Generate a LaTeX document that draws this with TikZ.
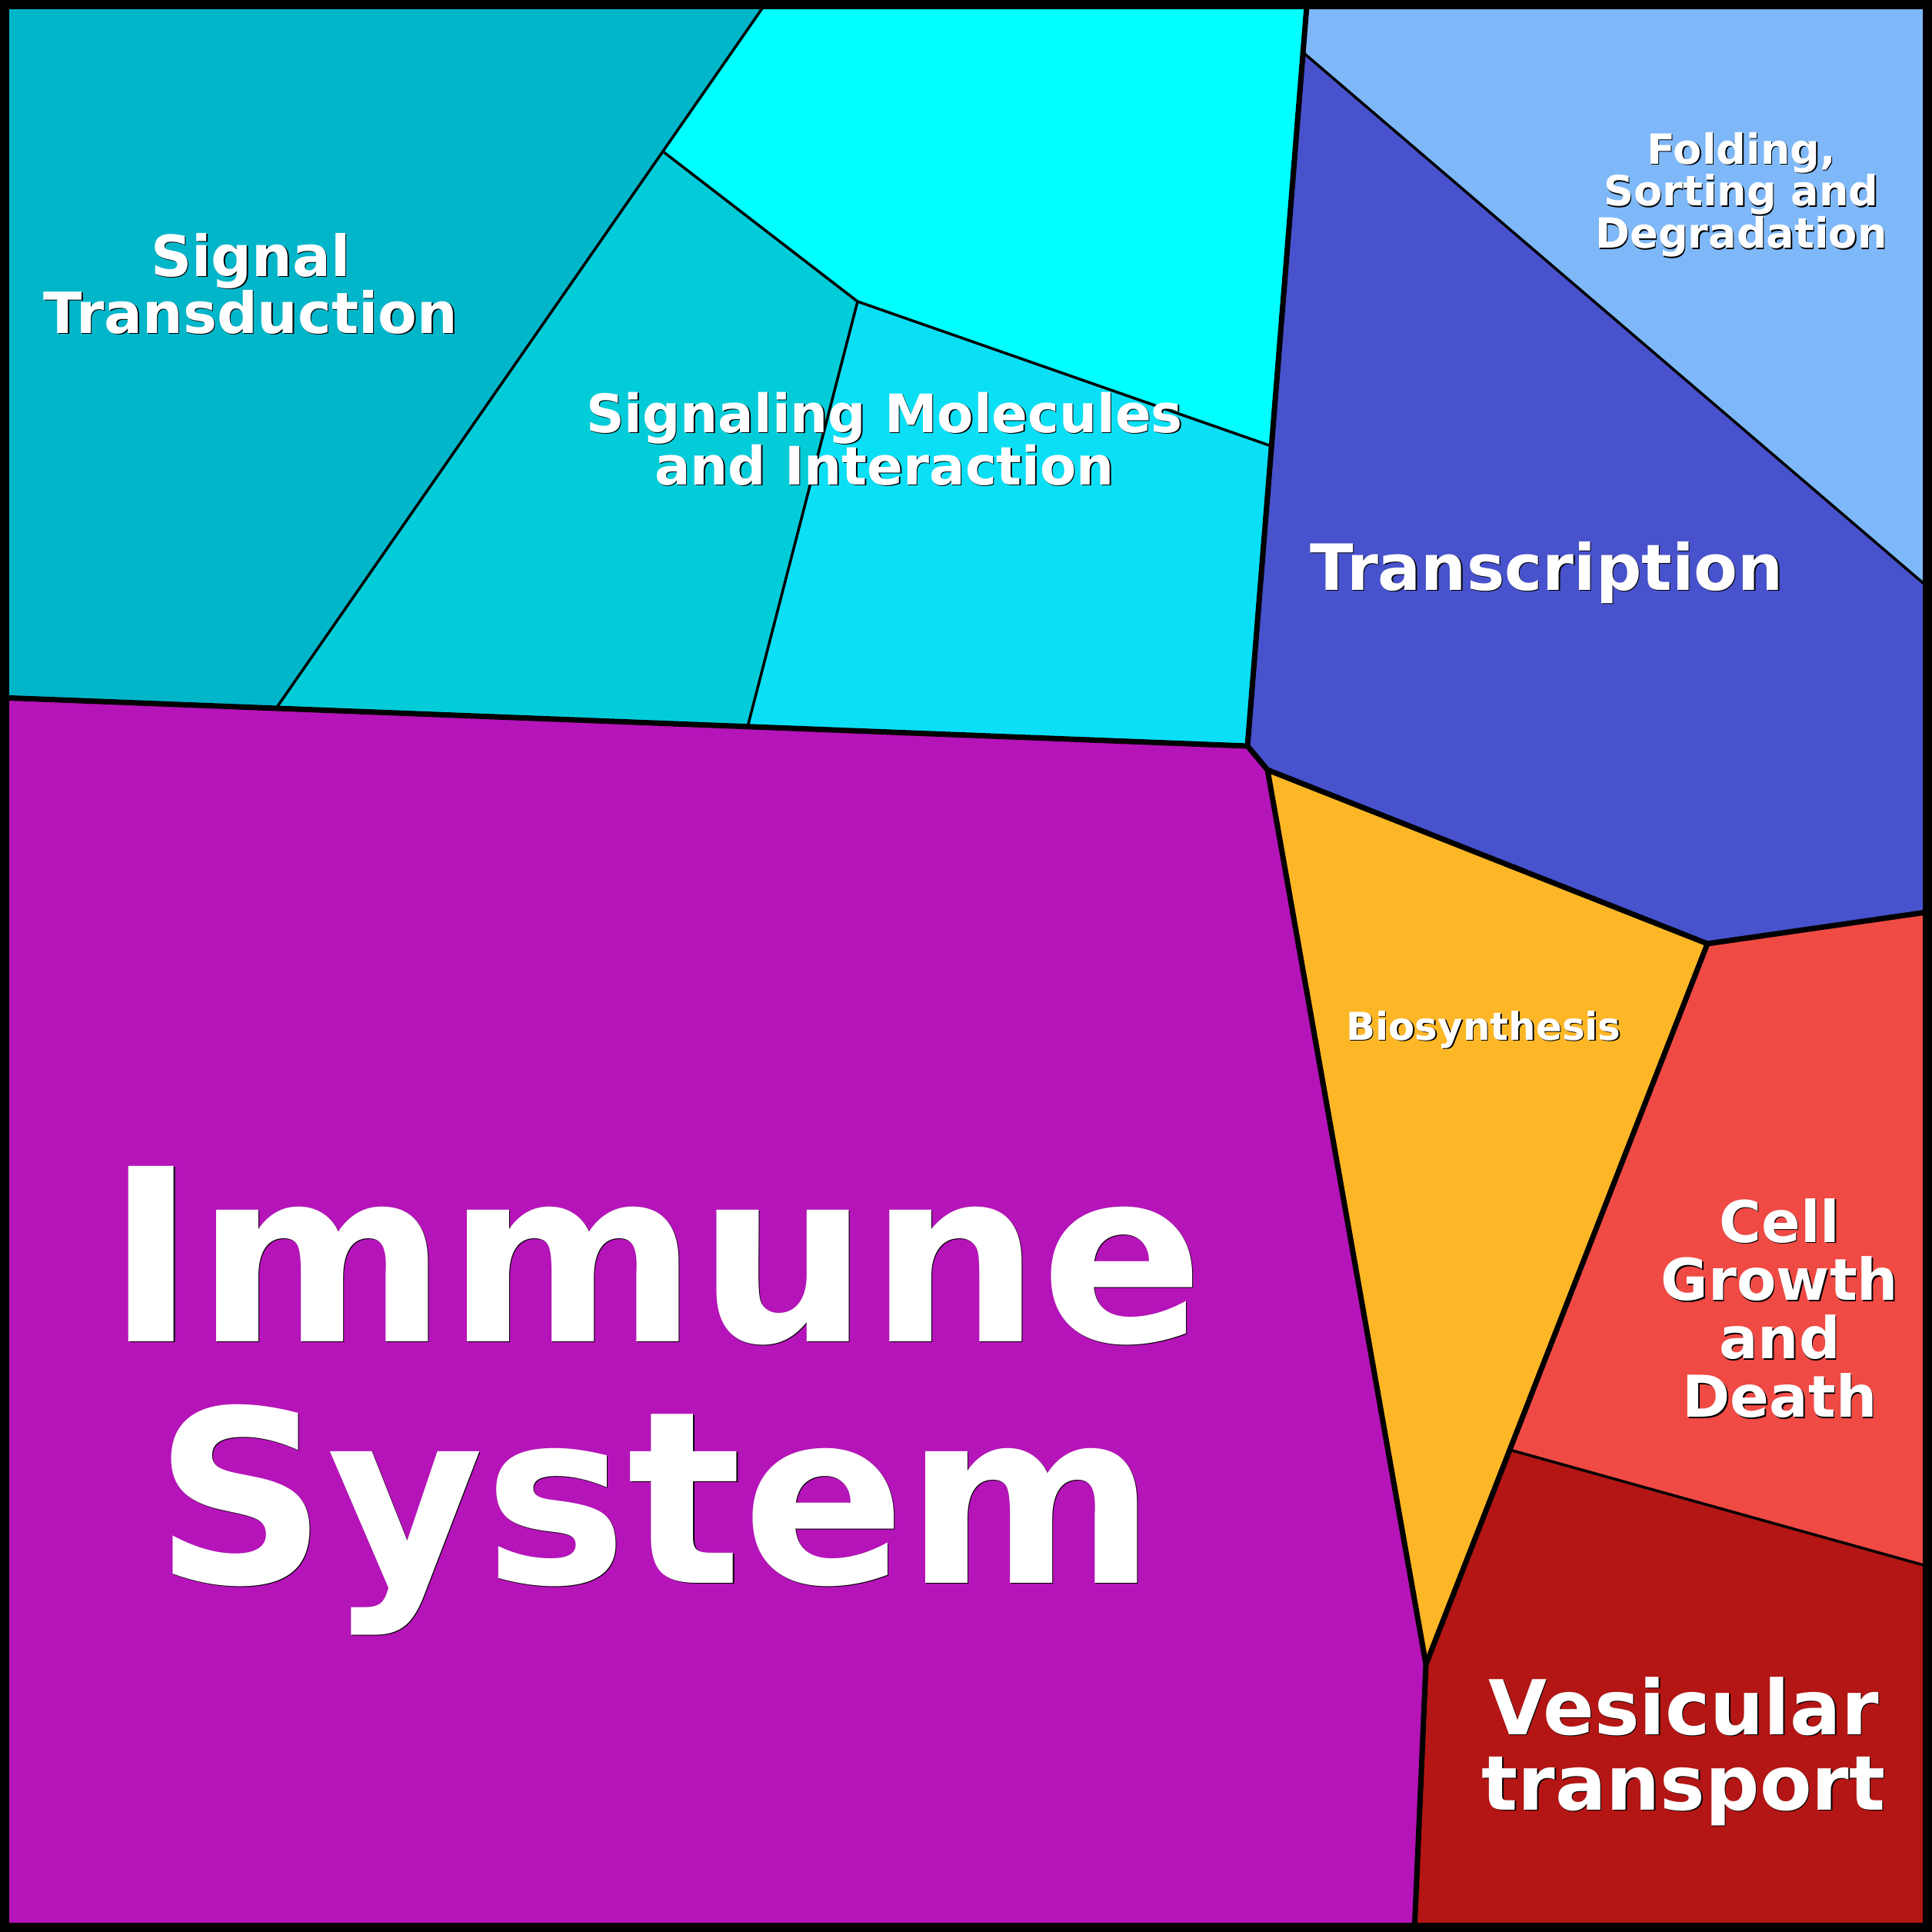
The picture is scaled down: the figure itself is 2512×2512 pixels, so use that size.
\documentclass[tikz,border=0pt]{standalone}
\usepackage{fontspec}
\setmainfont{DejaVu Sans}
\usepackage{tikz}
\definecolor{sigtransteal}{RGB}{2,182,202}
\definecolor{topcyan}{RGB}{0,255,255}
\definecolor{sigmolcyan}{RGB}{3,204,217}
\definecolor{lightcyan1}{RGB}{11,223,245}
\definecolor{foldblue}{RGB}{126,184,248}
\definecolor{transblue}{RGB}{71,82,204}
\definecolor{bioorange}{RGB}{253,183,38}
\definecolor{cellred}{RGB}{240,74,69}
\definecolor{vesired}{RGB}{179,22,20}
\definecolor{immunepurple}{RGB}{181,20,185}
\tikzset{
  thinedge/.style={line width=1pt},
  thickedge/.style={line width=2pt},
  lbl/.style 2 args={text=white, inner sep=0pt, anchor=base, font=\fontsize{#1}{#2}\selectfont\bfseries}
}
\newcommand\linesbox[1]{\vtop{\let\\\cr\lineskiplimit=-\maxdimen\halign{\hfil##\hfil\cr#1\crcr}}}
\newcommand\shadowtext[1]{\leavevmode\rlap{\kern0.4pt\lower0.4pt\hbox{\color{black}\linesbox{#1}}}\linesbox{#1}}

\begin{document}
\begin{tikzpicture}[x=0.01cm, y=-0.01cm]
  \useasboundingbox (0,0) rectangle (2512,2512);
  % corners of the cells
  \coordinate (tl) at (0,0);
  \coordinate (tr) at (2512,0);
  \coordinate (br) at (2512,2512);
  \coordinate (bl) at (0,2512);
  \coordinate (a) at (993,8);
  \coordinate (b) at (862,197);
  \coordinate (c) at (359,921);
  \coordinate (d) at (1115,392);
  \coordinate (e) at (1653,580);
  \coordinate (f) at (972,945);
  \coordinate (g) at (1699,8);
  \coordinate (h) at (1694,68);
  \coordinate (i) at (2512,768);
  \coordinate (j) at (1622,970);
  \coordinate (k) at (0,907);
  \coordinate (l) at (1648,1001);
  \coordinate (m) at (2220,1227);
  \coordinate (n) at (2512,1185);
  \coordinate (o) at (1854,2164);
  \coordinate (p) at (1839,2512);
  \coordinate (q) at (1963,1885);
  \coordinate (r) at (2512,2038);
  % cells
  \fill[sigtransteal] (tl) -- (a) -- (b) -- (c) -- (k) -- cycle;
  \fill[topcyan] (a) -- (g) -- (h) -- (e) -- (d) -- (b) -- cycle;
  \fill[sigmolcyan] (b) -- (d) -- (f) -- (c) -- cycle;
  \fill[lightcyan1] (d) -- (e) -- (j) -- (f) -- cycle;
  \fill[foldblue] (g) -- (tr) -- (i) -- (h) -- cycle;
  \fill[transblue] (h) -- (i) -- (n) -- (m) -- (l) -- (j) -- (e) -- cycle;
  \fill[bioorange] (l) -- (m) -- (o) -- cycle;
  \fill[cellred] (m) -- (n) -- (r) -- (q) -- cycle;
  \fill[vesired] (q) -- (r) -- (br) -- (p) -- (o) -- cycle;
  \fill[immunepurple] (k) -- (c) -- (f) -- (j) -- (l) -- (o) -- (p) -- (bl) -- cycle;
  % borders inside a group
  \draw[thinedge] (a) -- (c);
  \draw[thinedge] (b) -- (d) -- (e);
  \draw[thinedge] (d) -- (f);
  \draw[thinedge] (h) -- (i);
  \draw[thinedge] (q) -- (r);
  % borders between groups
  \draw[thickedge] (k) -- (j) -- (l) -- (m) -- (n);
  \draw[thickedge] (g) -- (j);
  \draw[thickedge] (l) -- (o) -- (p);
  \draw[thickedge] (m) -- (o);
  % frame
  \draw[line width=0.12cm] (6,6) rectangle (2506,2506);
  % labels
  \node[lbl={21pt}{21.1pt}] (sigtrans) at (326,359) {\shadowtext{Signal\\Transduction}};
  \node[lbl={19.6pt}{19.4pt}] (sigmol) at (1150,562) {\shadowtext{Signaling Molecules\\and Interaction}};
  \node[lbl={15.4pt}{15.6pt}] (folding) at (2264,213) {\shadowtext{Folding,\\Sorting and\\Degradation}};
  \node[lbl={23.6pt}{23.6pt}] (transcription) at (2011,767) {\shadowtext{Transcription}};
  \node[lbl={14.2pt}{14.2pt}] (biosyn) at (1929,1352) {\shadowtext{Biosynthesis}};
  \node[lbl={21.3pt}{21.6pt}] (cellgrowth) at (2314,1615) {\shadowtext{Cell\\Growth\\and\\Death}};
  \node[lbl={28pt}{27.9pt}] (vesicular) at (2189,2255) {\shadowtext{Vesicular\\transport}};
  \node[lbl={89pt}{89.3pt}] (immune) at (852,1744) {\shadowtext{Immune\\System}};
\end{tikzpicture}
\end{document}
